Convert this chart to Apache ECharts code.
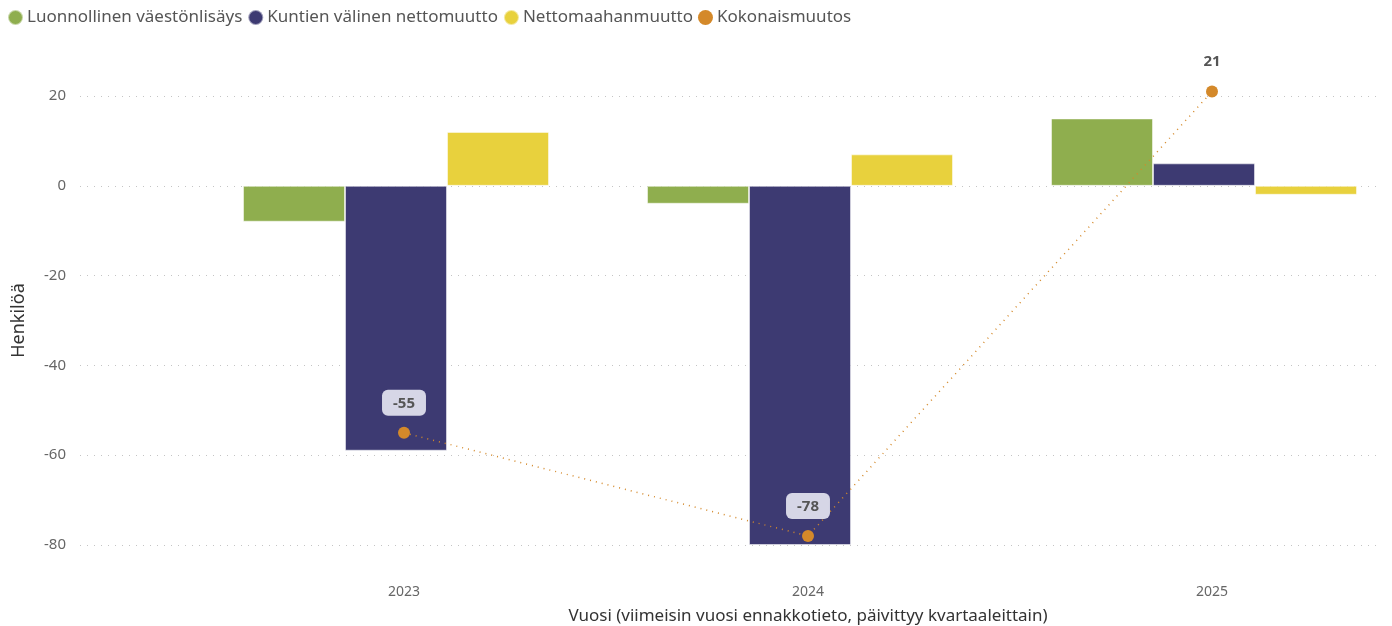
<!DOCTYPE html>
<html>
<head>
<meta charset="utf-8">
<title>Väestönmuutos</title>
<script src="https://cdn.jsdelivr.net/npm/echarts@6/dist/echarts.min.js"></script>
<style>
    html, body { margin: 0; padding: 0; background: #fff; }
    #chart { width: 1392px; height: 626px; }
</style>
</head>
<body>
<div id="chart"></div>
<script>
// data
var years = ['2023', '2024', '2025'];
var luonnollinen = [-8, -4, 15];
var kuntienValinen = [-59, -80, 5];
var nettomaahanmuutto = [12, 7, -2];
var kokonaismuutos = [-55, -78, 21];
var yTicks = [-80, -60, -40, -20, 0, 20];

var FONT = '"Segoe UI", "Noto Sans", sans-serif';
var COLORS = {
    green: '#8FAE4E',
    purple: '#3D3A72',
    yellow: '#E8D13D',
    orange: '#D4892A'
};

var chart = echarts.init(document.getElementById('chart'));

// kokonaismuutos labels: boxed when value below zero
var totalData = kokonaismuutos.map(function (v) {
    var item = {value: v};
    if (v < 0) {
        item.label = {
            backgroundColor: '#D6D6E6',
            borderRadius: 6,
            padding: [6, 11, 5, 11],
            distance: 11
        };
    }
    return item;
});

function barSeries(name, data, color) {
    return {
        name: name,
        type: 'bar',
        xAxisIndex: 1,
        yAxisIndex: 1,
        data: data,
        barWidth: 102,
        barGap: '0%',
        itemStyle: {color: color, borderColor: 'rgba(255,255,255,0.5)', borderWidth: 1},
        z: 2
    };
}

// same vertical extent for all grids
function sameY(idx) {
    return {
        gridIndex: idx,
        type: 'value',
        min: yTicks[0],
        max: yTicks[yTicks.length - 1],
        show: false
    };
}

var option = {
    animation: false,
    textStyle: {fontFamily: FONT},
    legend: {
        left: 2,
        top: 4,
        icon: 'circle',
        itemWidth: 15,
        itemHeight: 15,
        itemGap: 5,
        textStyle: {fontSize: 17, color: '#555', fontFamily: FONT, padding: [0, 0, 0, -1]},
        data: ['Luonnollinen väestönlisäys', 'Kuntien välinen nettomuutto', 'Nettomaahanmuutto', 'Kokonaismuutos']
    },
    grid: [
        // y axis + gridlines
        {left: 80, right: 12, top: 96, bottom: 81, outerBoundsMode: 'none'},
        // bars, a bit left of the category centre
        {left: 194, width: 1212, top: 96, bottom: 81, outerBoundsMode: 'none'},
        // total line + category labels
        {left: 202, width: 1212, top: 96, bottom: 81, outerBoundsMode: 'none'}
    ],
    xAxis: [
        {gridIndex: 0, type: 'value', show: false},
        {gridIndex: 1, type: 'category', data: years, show: false},
        {
            gridIndex: 2,
            type: 'category',
            data: years,
            axisLine: {show: false},
            axisTick: {show: false},
            axisLabel: {color: '#666', fontSize: 14, margin: 40, fontFamily: FONT},
            name: 'Vuosi (viimeisin vuosi ennakkotieto, päivittyy kvartaaleittain)',
            nameLocation: 'middle',
            nameGap: 63,
            nameTextStyle: {fontSize: 17, color: '#333', fontFamily: FONT}
        }
    ],
    yAxis: [
        {
            gridIndex: 0,
            type: 'value',
            min: yTicks[0],
            max: yTicks[yTicks.length - 1],
            interval: 20,
            axisLine: {show: false},
            axisTick: {show: false},
            axisLabel: {color: '#666', fontSize: 15, margin: 14, fontFamily: FONT},
            splitLine: {lineStyle: {color: '#C4C4C4', type: [1, 6], width: 1}},
            name: 'Henkilöä',
            nameLocation: 'middle',
            nameGap: 52,
            nameTextStyle: {fontSize: 18, color: '#333', fontFamily: FONT}
        },
        sameY(1),
        sameY(2)
    ],
    series: [
        barSeries('Luonnollinen väestönlisäys', luonnollinen, COLORS.green),
        barSeries('Kuntien välinen nettomuutto', kuntienValinen, COLORS.purple),
        barSeries('Nettomaahanmuutto', nettomaahanmuutto, COLORS.yellow),
        {
            name: 'Kokonaismuutos',
            type: 'line',
            xAxisIndex: 2,
            yAxisIndex: 2,
            data: totalData,
            clip: false,
            symbol: 'circle',
            symbolSize: 12,
            itemStyle: {color: COLORS.orange},
            lineStyle: {color: COLORS.orange, width: 1.5, type: [1, 5]},
            label: {
                show: true,
                position: 'top',
                distance: 16,
                color: '#555',
                fontSize: 15,
                fontWeight: 'bold',
                fontFamily: FONT
            },
            z: 5
        }
    ]
};

chart.setOption(option);
</script>
</body>
</html>
